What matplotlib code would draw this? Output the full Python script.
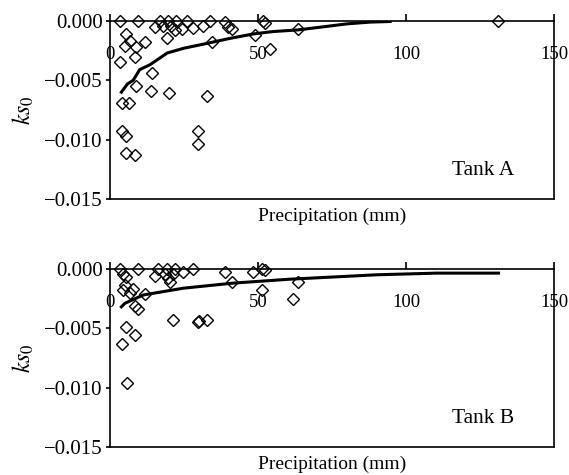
import matplotlib
matplotlib.use("Agg")
import matplotlib.pyplot as plt

plt.rcParams['font.family'] = ['Liberation Serif', 'DejaVu Serif']
plt.rcParams['mathtext.fontset'] = 'stix'

# Tank A observations (precipitation mm, ks0)
a_x = [3.4, 9.6, 16.9, 19.7, 22.5, 25.9, 33.8, 38.9, 51.8, 52.3, 131.0,
       15.2, 18.0, 20.8, 19.2, 21.9, 24.2, 28.1, 31.5, 40.0, 41.1, 49.0,
       63.6, 34.4, 54.1, 5.6, 6.8, 5.1, 9.0, 11.8, 8.4, 3.4, 14.4, 9.0,
       13.9, 20.0, 32.7, 4.2, 6.5, 4.2, 5.6, 5.4, 8.4, 29.6, 29.6]
a_y = [0.0, 0.0, 0.0, 0.0, 0.0, 0.0, 0.0, -0.0001, 0.0, -0.0002, 0.0,
       -0.0005, -0.0004, -0.0004, -0.0014, -0.0008, -0.0007, -0.0006, -0.0004, -0.0005, -0.0007, -0.0012,
       -0.0007, -0.0018, -0.0024, -0.0011, -0.0017, -0.0021, -0.0022, -0.0018, -0.0030, -0.0035, -0.0044, -0.0055,
       -0.0059, -0.0061, -0.0063, -0.0069, -0.0069, -0.0093, -0.0097, -0.0111, -0.0113, -0.0093, -0.0104]
a_curve_x = [3.9, 6.0, 7.9, 10.1, 13.5, 19.4, 25.0, 32.7, 40.0, 48.4, 55.0, 63.4, 72.0, 80.0, 88.0, 94.6]
a_curve_y = [-0.0060, -0.0053, -0.0050, -0.0041, -0.0037, -0.0027, -0.0023, -0.0019, -0.0015, -0.0011,
             -0.0009, -0.00076, -0.0005, -0.00025, -0.0001, -0.00005]

# Tank B observations
b_x = [3.4, 9.6, 16.3, 19.2, 22.0, 28.1, 4.5, 5.6, 15.2, 18.6, 19.7, 20.3, 21.4, 24.8,
       5.1, 4.5, 6.8, 7.9, 11.8, 9.6, 8.4, 21.4, 29.6, 30.2, 32.9, 5.6, 8.4, 4.1, 5.9,
       38.9, 41.1, 48.4, 51.2, 52.4, 51.2, 63.6, 61.9]
b_y = [0.0, 0.0, 0.0, 0.0, 0.0, 0.0, -0.0004, -0.0007, -0.00056, -0.0004, -0.0008, -0.0011, -0.0004, -0.0003,
       -0.0014, -0.0018, -0.0020, -0.0017, -0.0021, -0.0034, -0.0031, -0.0043, -0.0045, -0.0044, -0.0043,
       -0.0049, -0.0056, -0.0063, -0.0096,
       -0.0003, -0.0011, -0.0003, 0.0, -0.0001, -0.0018, -0.0011, -0.0025]
b_curve_x = [3.9, 5.1, 11.3, 24.8, 41.7, 60.8, 74.3, 90.1, 110.4, 131.2]
b_curve_y = [-0.0032, -0.0029, -0.0022, -0.00163, -0.0012, -0.00087, -0.0007, -0.0005, -0.00036, -0.00036]

xticks = [0, 50, 100, 150]
yticks = [0.0, -0.005, -0.010, -0.015]
ylabels = ['0.000', '\u22120.005', '\u22120.010', '\u22120.015']

fig = plt.figure(figsize=(5.69, 4.75), dpi=100)
ax1 = fig.add_axes([0.193, 0.581, 0.781, 0.375])
ax2 = fig.add_axes([0.193, 0.059, 0.781, 0.375])

panels = [(ax1, a_x, a_y, a_curve_x, a_curve_y, 'Tank A'),
          (ax2, b_x, b_y, b_curve_x, b_curve_y, 'Tank B')]

for ax, px, py, cx, cy, name in panels:
    ax.plot(px, py, 'D', ms=6.5, mfc='none', mec='black', mew=1.0, clip_on=False, zorder=3)
    ax.plot(cx, cy, '-', color='black', lw=2.2, zorder=4)
    ax.set_xlim(0, 150)
    ax.set_ylim(-0.015, 0.0)
    for s in ax.spines.values():
        s.set_linewidth(1.2)
    ax.set_xticks(xticks)
    ax.set_xticklabels([str(t) for t in xticks])
    ax.tick_params(axis='x', bottom=False, top=True, labelbottom=False, labeltop=True,
                   direction='out', length=5, width=1.2, pad=-35, labelsize=13.5)
    ax.set_yticks(yticks)
    ax.set_yticklabels(ylabels)
    ax.tick_params(axis='y', direction='out', length=3, width=1.2, pad=2, labelsize=15)
    ax.set_xlabel('Precipitation (mm)', fontsize=14, labelpad=6)
    ax.xaxis.set_label_position('bottom')
    ax.set_ylabel('$ks_0$', fontsize=17, labelpad=6)
    ax.text(126, -0.0126, name, ha='center', va='center', fontsize=15.5)

fig.savefig('out.png', dpi=100)
